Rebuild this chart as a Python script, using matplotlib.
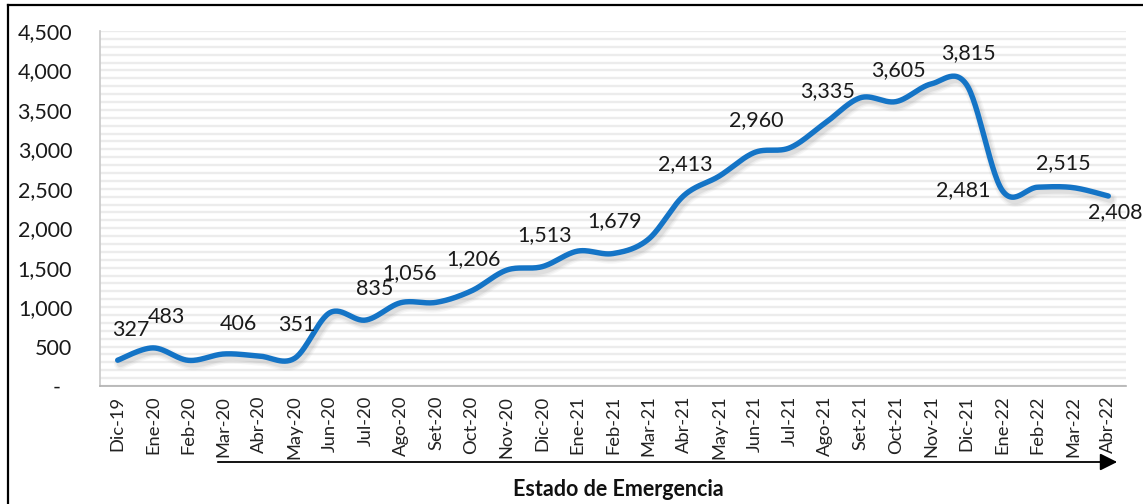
import numpy as np
import matplotlib
matplotlib.use('Agg')
import matplotlib.pyplot as plt
import matplotlib.transforms as mtransforms
from matplotlib.lines import Line2D
from matplotlib.ticker import MultipleLocator, FuncFormatter

plt.rcParams['font.family'] = ['Lato', 'DejaVu Sans']

# monthly values
months = ['Dic-19', 'Ene-20', 'Feb-20', 'Mar-20', 'Abr-20', 'May-20', 'Jun-20',
          'Jul-20', 'Ago-20', 'Set-20', 'Oct-20', 'Nov-20', 'Dic-20', 'Ene-21',
          'Feb-21', 'Mar-21', 'Abr-21', 'May-21', 'Jun-21', 'Jul-21', 'Ago-21',
          'Set-21', 'Oct-21', 'Nov-21', 'Dic-21', 'Ene-22', 'Feb-22', 'Mar-22',
          'Abr-22']
values = [327, 483, 325, 406, 380, 351, 930, 835, 1056, 1060, 1206, 1470, 1513,
          1710, 1679, 1860, 2413, 2660, 2960, 3020, 3335, 3655, 3605, 3830, 3815,
          2481, 2520, 2515, 2408]
# months that carry a data label
labeled = [0, 1, 3, 5, 7, 8, 10, 12, 14, 16, 18, 20, 22, 24, 25, 27, 28]
emergency_start = 'Mar-20'

BLUE = '#1474c6'

# label placement (pixel offsets from the point, ha)
label_off = {0: (13, 30), 1: (13, 31), 3: (15, 30), 5: (2, 33), 7: (9, 31),
             8: (9, 30), 25: (-12, 0, 'right'), 27: (-10, 25), 28: (7, -16)}


def smooth(x, y, n=30):
    """Excel-like smoothed line (Catmull-Rom as cubic Bezier)."""
    x = np.asarray(x, float)
    y = np.asarray(y, float)
    xs, ys = [], []
    t = np.linspace(0, 1, n)
    m = len(x)
    for i in range(m - 1):
        i0, i3 = max(i - 1, 0), min(i + 2, m - 1)
        p0 = np.array([x[i], y[i]])
        p3 = np.array([x[i + 1], y[i + 1]])
        c1 = p0 + (np.array([x[i + 1], y[i + 1]]) - np.array([x[i0], y[i0]])) / 6
        c2 = p3 - (np.array([x[i3], y[i3]]) - np.array([x[i], y[i]])) / 6
        pts = ((1 - t) ** 3)[:, None] * p0 + (3 * (1 - t) ** 2 * t)[:, None] * c1 \
            + (3 * (1 - t) * t ** 2)[:, None] * c2 + (t ** 3)[:, None] * p3
        xs.append(pts[:, 0])
        ys.append(pts[:, 1])
    return np.concatenate(xs), np.concatenate(ys)


fig = plt.figure(figsize=(11.43, 5.04), dpi=100)
W, H = 1143, 504
ax = fig.add_axes([100 / W, (H - 386) / H, 1026 / W, 355 / H])

x = np.arange(len(months))
sx, sy = smooth(x, values)

# soft shadow under the line
for lw, a in [(9, 0.06), (7, 0.08), (5, 0.12)]:
    tr = mtransforms.offset_copy(ax.transData, fig=fig, x=2.5, y=-3.5, units='dots')
    ax.plot(sx, sy, color='#7f7f7f', lw=lw * 0.72 * 1.4, alpha=a,
            solid_capstyle='round', transform=tr, zorder=2)
ax.plot(sx, sy, color=BLUE, lw=3.9, solid_capstyle='round',
        solid_joinstyle='round', zorder=3)

for i in labeled:
    off = label_off.get(i, (2, 32))
    ha = off[2] if len(off) > 2 else 'center'
    ax.annotate(f'{values[i]:,}', (x[i], values[i]), xytext=(off[0], off[1]),
                textcoords='offset pixels', ha=ha, va='center', fontsize=15.5,
                color='#1a1a1a', zorder=4, annotation_clip=False)

ax.set_xlim(-0.5, len(months) - 0.5)
ax.set_ylim(0, 4500)
ax.set_xticks(x)
ax.set_xticklabels(months, rotation=90, fontsize=13.2, color='#222222')
ax.yaxis.set_major_locator(MultipleLocator(500))
ax.yaxis.set_minor_locator(MultipleLocator(100))
ax.yaxis.set_major_formatter(FuncFormatter(
    lambda v, p: '-  ' if v == 0 else f'{int(v):,}'))
ax.tick_params(axis='y', which='both', length=0, pad=20, labelsize=15.5,
               labelcolor='#1a1a1a')
ax.tick_params(axis='x', length=0, pad=7)
ax.grid(True, axis='y', which='both', color='#ececec', lw=1.7, zorder=0)
ax.set_axisbelow(True)
for s in ['top', 'right']:
    ax.spines[s].set_visible(False)
ax.spines['left'].set_color('#c8c8c8')
ax.spines['bottom'].set_color('#b0b0b0')
ax.spines['left'].set_linewidth(1.2)
ax.spines['bottom'].set_linewidth(1.2)

# Estado de Emergencia arrow
trans = mtransforms.blended_transform_factory(ax.transData, fig.transFigure)
x0 = months.index(emergency_start) - 0.17
ax.annotate('', xy=(len(months) - 0.75, (H - 462) / H), xytext=(x0, (H - 462) / H),
            xycoords=trans, textcoords=trans, annotation_clip=False,
            arrowprops=dict(arrowstyle='-|>', color='black', lw=1.3,
                            mutation_scale=26, shrinkA=0, shrinkB=0))
fig.text(618 / W, (H - 489) / H, 'Estado de Emergencia', ha='center',
         va='center', fontsize=15.5, fontweight='bold', color='#111111')

# outer frame (left and top edges visible)
fig.add_artist(Line2D([8 / W, 8 / W], [0, 1 - 5 / H], transform=fig.transFigure,
                      color='black', lw=1.6))
fig.add_artist(Line2D([8 / W, 1], [1 - 5 / H, 1 - 5 / H], transform=fig.transFigure,
                      color='black', lw=1.6))

fig.savefig('out.png', dpi=100)
